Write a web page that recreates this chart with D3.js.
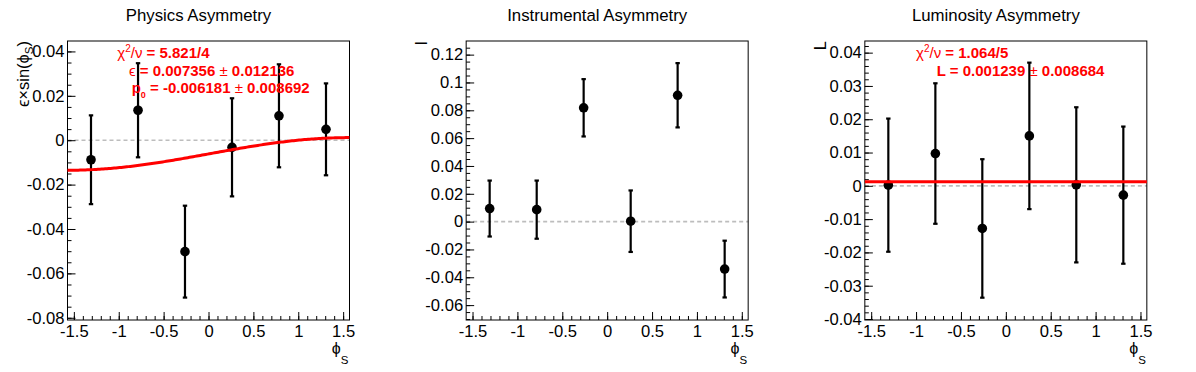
<!DOCTYPE html>
<html>
<head>
<meta charset="utf-8">
<script src="https://cdn.jsdelivr.net/npm/d3@7"></script>
<style>
body { margin: 0; background: #fff; }
svg { display: block; font-family: "Liberation Sans", Arial, Helvetica, sans-serif; }
</style>
</head>
<body>
<svg id="chart" width="1196" height="372"></svg>
<script>
// phi_S bin centres (6 bins over -pi/2 .. pi/2)
const phiS = [-1.309, -0.785, -0.262, 0.262, 0.785, 1.309];

// asymmetries
const physVals = [-0.0088, 0.0135, -0.0502, -0.0032, 0.0110, 0.0049];
const physErrs = [0.0200, 0.0212, 0.0207, 0.0221, 0.0232, 0.0207];
const instVals = [0.0094, 0.0086, 0.0818, 0.0003, 0.0908, -0.0341];
const instErrs = [0.0201, 0.0209, 0.0206, 0.0221, 0.0231, 0.0204];
const lumiVals = [0.0002, 0.0097, -0.0128, 0.0150, 0.0003, -0.0028];
const lumiErrs = [0.0200, 0.0211, 0.0208, 0.0220, 0.0233, 0.0206];

// fit results
const physEps = 0.007356, physP0 = -0.006181;
const lumiL = 0.001239;

// axis ticks
const xTicks = [-1.5, -1, -0.5, 0, 0.5, 1, 1.5];
const physTicks = [-0.08, -0.06, -0.04, -0.02, 0, 0.02, 0.04];
const instTicks = [-0.06, -0.04, -0.02, 0, 0.02, 0.04, 0.06, 0.08, 0.1, 0.12];
const lumiTicks = [-0.04, -0.03, -0.02, -0.01, 0, 0.01, 0.02, 0.03, 0.04];

const titles = ["Physics Asymmetry", "Instrumental Asymmetry", "Luminosity Asymmetry"];

let svg = d3.select("#chart");
svg.append("rect").attr("width", 1196).attr("height", 372).attr("fill", "#fff");

let padW = 1196 / 3;
let frameL = 67.5, frameW = 282, frameT = 41, frameB = 320;
let labelSize = 16.6;
let fmt = d => String(+d.toFixed(4));

function minors(lo, hi, step) {
    let out = [];
    let start = Math.ceil(lo / step - 1e-6);
    for (let k = start; k * step <= hi + 1e-9; k++) out.push(+(k * step).toFixed(5));
    return out;
}

function drawPanel(i, vals, errs, yDomain, yTicks, yMinor, yTitle) {
    let g = svg.append("g").attr("transform", `translate(${i * padW},0)`);

    let x = d3.scaleLinear().domain([-1.5708, 1.5708]).range([frameL, frameL + frameW]);
    let y = d3.scaleLinear().domain(yDomain).range([frameB, frameT]);

    // title
    g.append("text")
        .attr("x", padW / 2 - 0.8).attr("y", 20.7)
        .attr("text-anchor", "middle")
        .attr("font-size", 16.8)
        .text(titles[i]);

    // zero line
    g.append("line")
        .attr("x1", frameL).attr("x2", frameL + frameW)
        .attr("y1", y(0)).attr("y2", y(0))
        .attr("stroke", "#bdbdbd").attr("stroke-width", 1.6)
        .attr("stroke-dasharray", "4,3");

    // axes (ticks point into the frame like ROOT)
    let xAxis = d3.axisBottom(x).tickValues(xTicks).tickFormat(fmt)
        .tickSizeInner(-8).tickSizeOuter(0).tickPadding(5.5);
    let xMinor = d3.axisBottom(x).tickValues(minors(-1.5, 1.5, 0.1)).tickFormat("")
        .tickSizeInner(-4).tickSizeOuter(0);
    let yAxis = d3.axisLeft(y).tickValues(yTicks).tickFormat(fmt)
        .tickSizeInner(-8).tickSizeOuter(0).tickPadding(3);
    let yMin = d3.axisLeft(y).tickValues(minors(yDomain[0], yDomain[1], yMinor)).tickFormat("")
        .tickSizeInner(-4).tickSizeOuter(0);

    [[xAxis, `translate(0,${frameB})`], [xMinor, `translate(0,${frameB})`],
     [yAxis, `translate(${frameL},0)`], [yMin, `translate(${frameL},0)`]].forEach(a => {
        let ag = g.append("g").attr("transform", a[1]).call(a[0]);
        ag.attr("font-size", labelSize).attr("font-family", null);
        ag.select(".domain").remove();
        ag.selectAll("text").attr("fill", "#000");
    });

    // frame
    g.append("rect")
        .attr("x", frameL).attr("y", frameT)
        .attr("width", frameW).attr("height", frameB - frameT)
        .attr("fill", "none").attr("stroke", "#000").attr("stroke-width", 1);

    // x title
    let xt = g.append("text")
        .attr("x", frameL + frameW - 1).attr("y", 354)
        .attr("text-anchor", "end").attr("font-size", 16);
    xt.append("tspan").text("ϕ");
    xt.append("tspan").attr("font-size", 11.5).attr("dy", 10).text("S");

    // y title
    let yt = g.append("text")
        .attr("transform", `translate(28.5,${frameT}) rotate(-90)`)
        .attr("text-anchor", "end").attr("font-size", 16.5);
    yTitle.forEach(p => {
        let t = yt.append("tspan").text(p.t);
        if (p.sub) t.attr("font-size", 11.5).attr("dy", 4);
        if (p.back) t.attr("dy", -4);
    });

    // points with error bars
    let data = phiS.map((p, k) => ({x: p, v: vals[k], e: errs[k]}));
    let pts = g.append("g");
    pts.selectAll(".err").data(data).enter().append("line")
        .attr("x1", d => x(d.x)).attr("x2", d => x(d.x))
        .attr("y1", d => y(d.v + d.e)).attr("y2", d => y(d.v - d.e))
        .attr("stroke", "#000").attr("stroke-width", 2.2);
    ["top", "bot"].forEach(side => {
        pts.selectAll(".cap-" + side).data(data).enter().append("line")
            .attr("x1", d => x(d.x) - 2.2).attr("x2", d => x(d.x) + 2.2)
            .attr("y1", d => y(side === "top" ? d.v + d.e : d.v - d.e))
            .attr("y2", d => y(side === "top" ? d.v + d.e : d.v - d.e))
            .attr("stroke", "#000").attr("stroke-width", 2.2);
    });
    pts.selectAll("circle").data(data).enter().append("circle")
        .attr("cx", d => x(d.x)).attr("cy", d => y(d.v))
        .attr("r", 4.8).attr("fill", "#000");

    return {g: g, x: x, y: y};
}

function statLine(g, x0, y0, parts) {
    let t = g.append("text").attr("x", x0).attr("y", y0)
        .attr("fill", "#ff0000").attr("font-size", 15);
    parts.forEach(p => {
        let s = t.append("tspan").text(p.t)
            .attr("font-weight", p.sym ? "normal" : "bold");
        if (p.sup) s.attr("font-size", 10).attr("dy", -6);
        if (p.supEnd) s.attr("dy", 6);
        if (p.sub) s.attr("font-size", 9).attr("dy", 5);
        if (p.subEnd) s.attr("dy", -5);
    });
}

// Physics panel
let p1 = drawPanel(0, physVals, physErrs, [-0.081, 0.0447], physTicks, 0.005,
    [{t: "ϵ×sin(ϕ"}, {t: "S", sub: true}, {t: ")", back: true}]);
let fitX = d3.range(-1.5708, 1.5709, 0.02);
p1.g.append("path")
    .datum(fitX)
    .attr("d", d3.line().x(d => p1.x(d)).y(d => p1.y(physP0 + physEps * Math.sin(d))))
    .attr("fill", "none").attr("stroke", "#ff0000").attr("stroke-width", 3);
statLine(p1.g, 117.3, 58.3, [{t: "χ", sym: true}, {t: "2", sym: true, sup: true},
    {t: "/ν", sym: true, supEnd: true}, {t: " = 5.821/4"}]);
statLine(p1.g, 129, 75.7, [{t: "ϵ", sym: true}, {t: " = 0.007356 "}, {t: "±", sym: true}, {t: " 0.012136"}]);
statLine(p1.g, 131.7, 93.3, [{t: "p"}, {t: "0", sub: true}, {t: " = -0.006181", subEnd: true},
    {t: " ±", sym: true}, {t: " 0.008692"}]);

// Instrumental panel
drawPanel(1, instVals, instErrs, [-0.0707, 0.1298], instTicks, 0.005, [{t: "I"}]);

// Luminosity panel
let p3 = drawPanel(2, lumiVals, lumiErrs, [-0.0403, 0.0435], lumiTicks, 0.002, [{t: "L"}]);
p3.g.append("line")
    .attr("x1", p3.x(-1.5708)).attr("x2", p3.x(1.5708))
    .attr("y1", p3.y(lumiL)).attr("y2", p3.y(lumiL))
    .attr("stroke", "#ff0000").attr("stroke-width", 3);
statLine(p3.g, 118.7, 58.3, [{t: "χ", sym: true}, {t: "2", sym: true, sup: true},
    {t: "/ν", sym: true, supEnd: true}, {t: " = 1.064/5"}]);
statLine(p3.g, 139.4, 75.7, [{t: "L = 0.001239 "}, {t: "±", sym: true}, {t: " 0.008684"}]);
</script>
</body>
</html>
